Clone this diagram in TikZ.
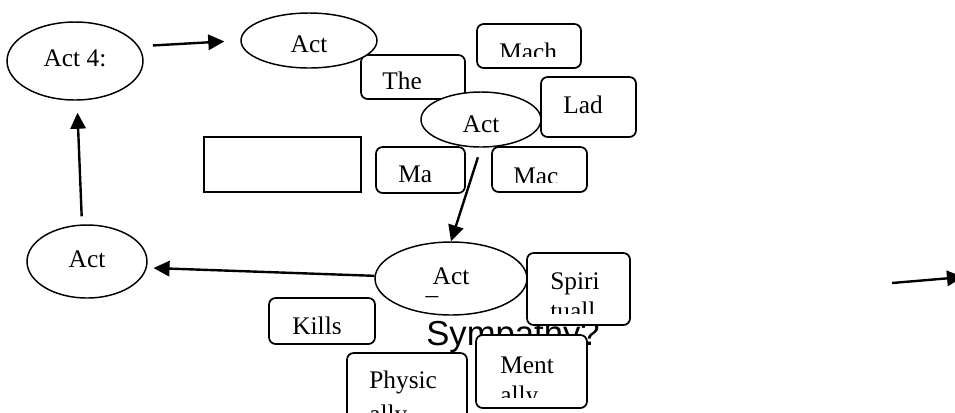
\documentclass[tikz,border=0pt]{standalone}
\usepackage{fontspec}
\setmainfont{Liberation Serif}
\newfontfamily\arialfont{Liberation Sans}
\usetikzlibrary{arrows.meta, shapes.geometric}

\begin{document}
\begin{tikzpicture}[x=0.75pt, y=-0.75pt, >={Triangle[length=12pt, width=11.5pt]},
                    semithick, font=\fontsize{19}{22}\selectfont]
\tikzstyle{act}=[ellipse, draw=black, fill=white, line width=1.1pt, inner sep=0pt]
\tikzstyle{box}=[rectangle, rounded corners=5pt, draw=black, fill=white,
                 line width=1.3pt, inner sep=0pt]
\tikzstyle{txt}=[anchor=base west, inner sep=0pt, align=left]
\tikzstyle{link}=[->, line width=1.8pt]
  \clip (0,0) rectangle (955,412);
  % sans text lying behind the boxes
  \node[anchor=base, inner sep=0pt, font=\arialfont\fontsize{26}{30}\selectfont]
       (symp) at (513,345) {Sympathy?};
  %
  \node[act, minimum width=102pt, minimum height=58.5pt, text depth=4.5pt] (act4) at (75,61) {Act 4:};
  \node[rectangle, draw=black, fill=white, line width=1.3pt, minimum width=117.75pt,
        minimum height=41.25pt] (blank) at (282.5,164.5) {};
  %
  \node[box, minimum width=78pt, minimum height=33pt] (the) at (413,77) {};
  \begin{scope}
    \clip (361,55) rectangle (465,88);
    \node[txt] (thetext) at (382,89) {The};
  \end{scope}
  \node[act, minimum width=102pt, minimum height=41.25pt, text height=18pt] (act5) at (309,40.5) {Act};
  %
  \node[box, minimum width=78pt, minimum height=33pt] (mach) at (529,46) {};
  \begin{scope}
    \clip (477,24) rectangle (581,56);
    \node[txt] (machtext) at (499,60) {Mach};
  \end{scope}
  %
  \node[act, minimum width=90pt, minimum height=41.25pt, text height=19pt] (act1) at (481,119.5) {Act};
  \node[box, minimum width=71.25pt, minimum height=45pt] (lad) at (588.5,107) {};
  \node[txt] (ladtext) at (563,113) {Lad};
  %
  \node[box, minimum width=66.75pt, minimum height=34.5pt] (ma) at (420.5,170) {};
  \begin{scope}
    \clip (376,147) rectangle (465,182.5);
    \node[txt] (matext) at (398,182) {Ma};
  \end{scope}
  \node[box, minimum width=71.25pt, minimum height=33.75pt] (mac) at (539.5,169.5) {};
  \begin{scope}
    \clip (492,147) rectangle (587,182);
    \node[txt] (mactext) at (513,184) {Mac};
  \end{scope}
  %
  \node[act, minimum width=90pt, minimum height=54.75pt, text depth=3.75pt] (act3) at (87,261.5) {Act\hspace{13.5pt}};
  \node[act, minimum width=114pt, minimum height=54.75pt, text depth=3pt] (act2) at (451,278.5) {Act};
  \node[anchor=base, inner sep=0pt] (act2mark) at (432,294) {\_};
  %
  \node[box, minimum width=77.25pt, minimum height=54pt] (spiri) at (578.5,289) {};
  \begin{scope}
    \clip (527,253) rectangle (630,313);
    \node[txt] (spiritext) at (550,319.3) {Spiri\\tuall};
  \end{scope}
  \node[box, minimum width=79.5pt, minimum height=34.5pt] (kills) at (322,321) {};
  \begin{scope}
    \clip (269,298) rectangle (375,333);
    \node[txt] (killstext) at (292,334) {Kills};
  \end{scope}
  \node[box, minimum width=90pt, minimum height=54.75pt] (physic) at (407,389.5) {};
  \node[txt, font=\fontsize{19}{25}\selectfont] (physictext) at (369,422.3) {Physic\\ally};
  \node[box, minimum width=83.25pt, minimum height=54.75pt] (ment) at (531.5,371.5) {};
  \begin{scope}
    \clip (476,335) rectangle (587,397);
    \node[txt] (menttext) at (500,403.3) {Ment\\ally};
  \end{scope}
  %
  \path[link] (act4.13) edge [shorten <=10.5pt, shorten >=12pt] (act5.180);
  \path[link] ([xshift=-3.75pt]act3.north) edge [shorten <=6pt, shorten >=9pt] ([xshift=1.5pt]act4.south);
  \path[link] (act1.south) edge [shorten <=7.5pt] (act2.north);
  \path[link] (act2.178) edge [shorten >=5pt] (act3.-6);
  %
  \coordinate (farstart) at (892,283);
  \coordinate (farend) at (963,277);
  \draw[link] (farstart) -- (farend);
\end{tikzpicture}
\end{document}
